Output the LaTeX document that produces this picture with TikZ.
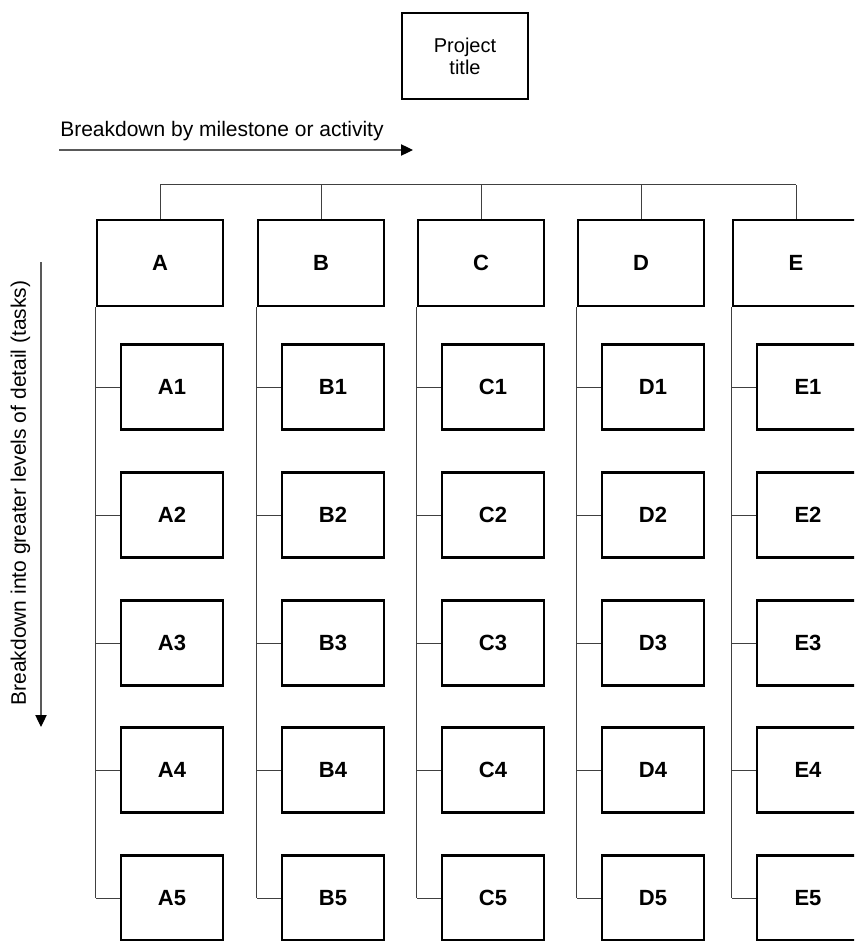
\documentclass[tikz,border=0pt]{standalone}
\usepackage{fontspec}
\setmainfont{Liberation Sans}
\usetikzlibrary{arrows.meta}
\begin{document}
\begin{tikzpicture}[x=0.75pt,y=-0.75pt,
  topbox/.style={draw, line width=1.6pt, minimum width=94.5pt, minimum height=64.5pt, inner sep=0pt, font=\fontsize{16.5}{19}\selectfont\bfseries},
  subbox/.style={draw, line width=1.6pt, minimum width=76.5pt, minimum height=63.75pt, inner sep=0pt, font=\fontsize{16.5}{19}\selectfont\bfseries},
  titlebox/.style={draw, line width=1.6pt, minimum width=94.5pt, minimum height=64.5pt, inner sep=0pt, align=center, font=\fontsize{15}{16.5}\selectfont},
  link/.style={draw=black!75, line width=0.75pt},
  guide/.style={draw=black!65, line width=0.9pt, -{Triangle[length=9pt,width=8.5pt,black]}},
  note/.style={inner sep=0pt, font=\fontsize{15.75}{18}\selectfont}]
\path[use as bounding box, clip] (0,0) rectangle (854,941);
\node[titlebox] (title) at (465,56) {Project\\title};
\node[note, anchor=base west] (htext) at (60,137) {Breakdown by milestone or activity};
\coordinate (hs) at (59,150);
\coordinate (he) at (413,150);
\draw[guide] (hs) -- (he);
\node[note, rotate=90, anchor=base] (vtext) at (26,493) {Breakdown into greater levels of detail (tasks)};
\coordinate (vs) at (41,262);
\coordinate (ve) at (41,727);
\draw[guide] (vs) -- (ve);
\coordinate (bus) at (0,185);
\foreach \n/\l in {A/97,B/258,C/418,D/578,E/733} {
  \node[topbox] (\n) at (\l+63,263) {\n};
  \foreach \i/\yy in {1/387,2/515,3/643,4/770,5/898} {
    \node[subbox] (\n\i) at (\l+75,\yy) {\n\i};
    \draw[link] (\n.south west |- \n\i.west) -- (\n\i.west);
  }
  \draw[link] (\n.south west) -- (\n.south west |- \n5.west);
  \draw[link] (\n.north) -- (\n.north |- bus);
}
\draw[link] (A.north |- bus) -- (E.north |- bus);
\end{tikzpicture}
\end{document}
